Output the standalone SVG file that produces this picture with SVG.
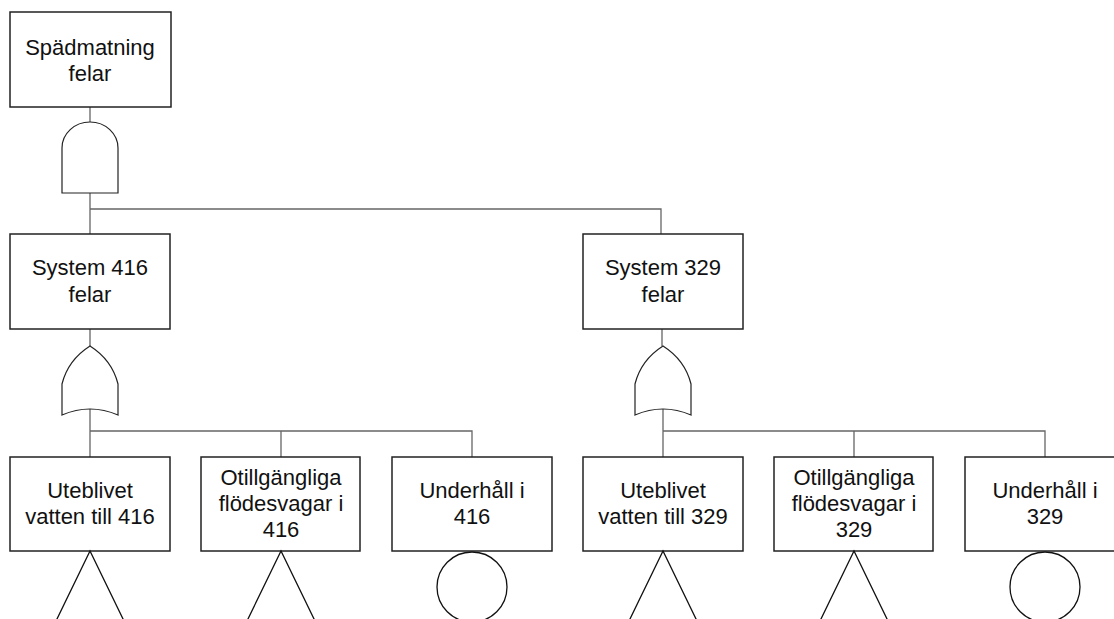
<svg xmlns="http://www.w3.org/2000/svg" width="1114" height="619" viewBox="0 0 1114 619">
<defs>
<style>
.box{fill:#fff;stroke:#222;stroke-width:1.5}
.gate{fill:#fff;stroke:#222;stroke-width:1.2}
.conn{fill:none;stroke:#666;stroke-width:1.3}
.sym{fill:none;stroke:#111;stroke-width:1.3}
text{font-family:"Liberation Sans",Arial,sans-serif;font-size:22px;fill:#111;text-anchor:middle}
</style>
<path id="orgate" d="M0,0 Q22,14 28,38 L28,69 Q0,57 -28,69 L-28,38 Q-22,14 0,0 Z"/>
<path id="andgate" d="M-28,71 L-28,26 A28,26 0 0 1 28,26 L28,71 Z"/>
</defs>
<rect width="1114" height="619" fill="#fff"/>
<g id="connectors">
<path class="conn" d="M90,107 V122 M90,193 V234 M90,209 H661 V234"/>
<path class="conn" d="M90,329 V346 M90,409 V457 M90,431 H472 V457 M281,431 V457"/>
<path class="conn" d="M662,329 V346 M663,409 V457 M663,431 H1045 V457 M854,431 V457"/>
</g>
<g id="gate-and">
<use href="#andgate" class="gate" x="90" y="122"/>
</g>
<g id="gate-or-416">
<use href="#orgate" class="gate" x="90" y="346"/>
</g>
<g id="gate-or-329">
<use href="#orgate" class="gate" x="663" y="346"/>
</g>
<g id="n-top">
<rect class="box" x="10" y="12" width="161" height="95"/>
<text x="90" y="55">Spädmatning</text>
<text x="90" y="81">felar</text>
</g>
<g id="n-416">
<rect class="box" x="10" y="234" width="160" height="95"/>
<text x="90" y="275">System 416</text>
<text x="90" y="302">felar</text>
</g>
<g id="n-329">
<rect class="box" x="583" y="234" width="160" height="95"/>
<text x="663" y="275">System 329</text>
<text x="663" y="302">felar</text>
</g>
<g id="n-ute-416">
<rect class="box" x="10" y="457" width="160" height="94"/>
<rect x="0" y="0" width="0" height="0" fill="none"/>
<text x="90" y="498">Uteblivet</text>
<text x="90" y="524">vatten till 416</text>
<path class="sym" d="M56,621 L90,551 L124,621"/>
</g>
<g id="n-otill-416">
<rect class="box" x="201" y="457" width="159" height="94"/>
<text x="281" y="485">Otillgängliga</text>
<text x="281" y="511">flödesvagar i</text>
<text x="281" y="537">416</text>
<path class="sym" d="M247,621 L281,551 L315,621"/>
</g>
<g id="n-under-416">
<rect class="box" x="392" y="457" width="160" height="94"/>
<text x="472" y="498">Underhåll i</text>
<text x="472" y="524">416</text>
<circle class="sym" cx="472" cy="587" r="35"/>
</g>
<g id="n-ute-329">
<rect class="box" x="583" y="457" width="160" height="94"/>
<text x="663" y="498">Uteblivet</text>
<text x="663" y="524">vatten till 329</text>
<path class="sym" d="M629,621 L663,551 L697,621"/>
</g>
<g id="n-otill-329">
<rect class="box" x="774" y="457" width="159" height="94"/>
<text x="854" y="485">Otillgängliga</text>
<text x="854" y="511">flödesvagar i</text>
<text x="854" y="537">329</text>
<path class="sym" d="M820,621 L854,551 L888,621"/>
</g>
<g id="n-under-329">
<rect class="box" x="965" y="457" width="160" height="94"/>
<text x="1045" y="498">Underhåll i</text>
<text x="1045" y="524">329</text>
<circle class="sym" cx="1045" cy="587" r="35"/>
</g>
</svg>
